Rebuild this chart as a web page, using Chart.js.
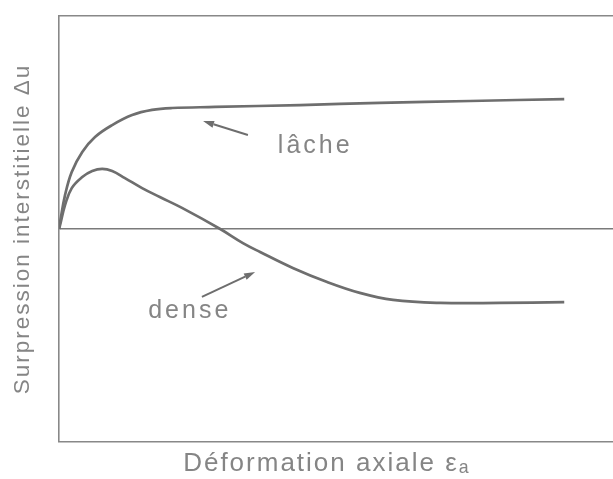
<!DOCTYPE html>
<html>
<head>
<meta charset="utf-8">
<script src="https://cdn.jsdelivr.net/npm/chart.js@4.4.1/dist/chart.umd.min.js"></script>
<style>
  html, body { margin: 0; padding: 0; background: #ffffff; overflow: hidden; }
  canvas { display: block; }
</style>
</head>
<body>
<canvas id="c" width="613" height="479"></canvas>
<script>
// ---- Data (arbitrary units) ----
const lacheStrain = [0, 0.02, 0.11, 0.23, 0.42, 0.65, 0.96, 1.32, 1.68, 2.04, 2.82, 4.35, 5.79, 7.42, 9.12];
const lacheDu     = [0, 0.33, 1.60, 2.68, 3.62, 4.32, 4.88, 5.35, 5.59, 5.68, 5.73, 5.82, 5.92, 6.01, 6.10];

const denseStrain = [0, 0.02, 0.11, 0.23, 0.42, 0.60, 0.78, 0.96, 1.19, 1.50, 1.82, 2.22, 2.91, 3.32, 3.63, 4.22, 4.84, 5.43, 6.03, 6.88, 7.96, 9.12];
const denseDu     = [0, 0.19, 1.13, 1.92, 2.44, 2.72, 2.82, 2.72, 2.39, 1.92, 1.50, 0.99, 0.00, -0.66, -1.08, -1.83, -2.49, -3.00, -3.33, -3.47, -3.47, -3.43];

const seriesLabels = ['lâche', 'dense'];
const xTitle = 'Déformation axiale εₐ  ';
const yTitle = 'Surpression interstitielle Δu';

// annotation labels and arrows (data coordinates)
const noteText  = ['lâche', 'dense'];
const noteTextX = [3.95, 1.61];
const noteTextY = [3.57, -4.18];
const arrowFromX = [3.41, 2.58];
const arrowFromY = [4.41, -3.19];
const arrowToX   = [2.60, 3.54];
const arrowToY   = [5.07, -2.02];

const toPoints = (xs, ys) => xs.map((x, i) => ({ x: x, y: ys[i] }));

const LINE = '#6e6e6e';
const AXIS = '#888888';
const TEXT = '#858585';

const annotPlugin = {
  id: 'annot',
  beforeDraw(chart) {
    chart.ctx.letterSpacing = '2px';
  },
  afterDatasetsDraw(chart) {
    const { ctx, scales } = chart;
    const xs = scales.x, ys = scales.y;
    ctx.save();
    // arrows
    ctx.strokeStyle = LINE;
    ctx.fillStyle = LINE;
    ctx.lineWidth = 2;
    for (let i = 0; i < arrowFromX.length; i++) {
      const x1 = xs.getPixelForValue(arrowFromX[i]);
      const y1 = ys.getPixelForValue(arrowFromY[i]);
      const x2 = xs.getPixelForValue(arrowToX[i]);
      const y2 = ys.getPixelForValue(arrowToY[i]);
      const a = Math.atan2(y2 - y1, x2 - x1);
      const L = 11, W = 3.5;
      const bx = x2 - L * Math.cos(a), by = y2 - L * Math.sin(a);
      ctx.beginPath();
      ctx.moveTo(x1, y1);
      ctx.lineTo(bx, by);
      ctx.stroke();
      ctx.beginPath();
      ctx.moveTo(x2, y2);
      ctx.lineTo(bx + W * Math.sin(a), by - W * Math.cos(a));
      ctx.lineTo(bx - W * Math.sin(a), by + W * Math.cos(a));
      ctx.closePath();
      ctx.fill();
    }
    // labels
    ctx.letterSpacing = '3px';
    ctx.fillStyle = TEXT;
    ctx.font = '25px "Liberation Sans", Arial, sans-serif';
    ctx.textAlign = 'left';
    ctx.textBaseline = 'alphabetic';
    for (let i = 0; i < noteText.length; i++) {
      ctx.fillText(noteText[i], xs.getPixelForValue(noteTextX[i]), ys.getPixelForValue(noteTextY[i]));
    }
    ctx.restore();
    ctx.letterSpacing = '2px';
  }
};

new Chart(document.getElementById('c'), {
  type: 'line',
  data: {
    datasets: [
      {
        label: seriesLabels[0],
        data: toPoints(lacheStrain, lacheDu),
        borderColor: LINE,
        borderWidth: 2.7,
        pointRadius: 0,
        tension: 0.4,
        fill: false
      },
      {
        label: seriesLabels[1],
        data: toPoints(denseStrain, denseDu),
        borderColor: LINE,
        borderWidth: 2.7,
        pointRadius: 0,
        tension: 0.4,
        fill: false
      }
    ]
  },
  options: {
    responsive: false,
    animation: false,
    events: [],
    layout: { padding: { left: 6, top: 16, right: 0, bottom: 0 } },
    plugins: { legend: { display: false }, tooltip: { enabled: false } },
    scales: {
      x: {
        type: 'linear',
        min: 0,
        max: 10,
        position: 'bottom',
        ticks: { display: false },
        grid: { display: false, drawTicks: false },
        border: { display: true, color: AXIS, width: 1.6 },
        title: {
          display: true,
          text: xTitle,
          color: TEXT,
          font: { family: '"Liberation Sans", Arial, sans-serif', size: 26 },
          padding: { top: 4, bottom: 0 }
        },
        afterFit(s) { s.height = 37; }
      },
      x2: {
        type: 'linear',
        min: 0,
        max: 10,
        position: 'top',
        ticks: { display: false },
        grid: { display: false, drawTicks: false },
        border: { display: true, color: AXIS, width: 1.6 },
        afterFit(s) { s.height = 0; }
      },
      y: {
        type: 'linear',
        min: -10,
        max: 10,
        ticks: { display: false, stepSize: 1 },
        grid: {
          drawTicks: false,
          color: (c) => (c.tick && c.tick.value === 0 ? '#7a7a7a' : 'rgba(0,0,0,0)'),
          lineWidth: (c) => (c.tick && c.tick.value === 0 ? 1.6 : 0)
        },
        border: { display: true, color: AXIS, width: 1.6 },
        title: {
          display: true,
          text: yTitle,
          color: TEXT,
          font: { family: '"Liberation Sans", Arial, sans-serif', size: 22.5 },
          padding: { top: 3, bottom: 0 }
        },
        afterFit(s) { s.width = 53; }
      }
    }
  },
  plugins: [annotPlugin]
});
</script>
</body>
</html>
